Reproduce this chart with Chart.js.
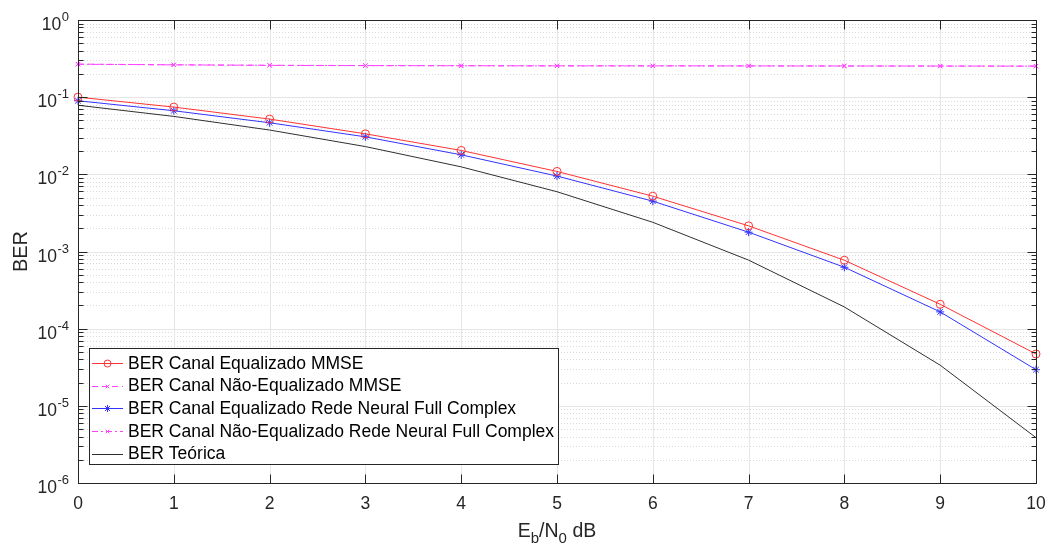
<!DOCTYPE html>
<html>
<head>
<meta charset="utf-8">
<script src="https://cdn.jsdelivr.net/npm/chart.js@4.4.1/dist/chart.umd.min.js"></script>
<style>
  html, body { margin: 0; padding: 0; background: #fff; }
  #wrap { width: 1052px; height: 551px; }
</style>
</head>
<body>
<div id="wrap"><canvas id="c" width="1052" height="551"></canvas></div>
<script>
// Eb/N0 (dB) and measured bit error rates
const ebn0 = [0, 1, 2, 3, 4, 5, 6, 7, 8, 9, 10];
const berMmseEq = [0.100, 0.0744, 0.0520, 0.0335, 0.0204, 0.0109, 0.00521, 0.00215, 0.00077, 0.000207, 0.000047];
const berMmseNoEq = [0.268, 0.263, 0.259, 0.257, 0.256, 0.255, 0.255, 0.254, 0.254, 0.253, 0.253];
const berNnEq = [0.0898, 0.0667, 0.0466, 0.0306, 0.0179, 0.0095, 0.00449, 0.00178, 0.000625, 0.000165, 0.0000294];
const berNnNoEq = [0.267, 0.262, 0.258, 0.256, 0.255, 0.254, 0.254, 0.254, 0.253, 0.253, 0.252];
const berTheory = [0.0786, 0.0563, 0.0375, 0.0229, 0.0125, 0.00595, 0.00239, 0.000773, 0.000191, 0.0000336, 0.00000387];

const xTickValues = [0, 1, 2, 3, 4, 5, 6, 7, 8, 9, 10];
const yDecadeExponents = [0, -1, -2, -3, -4, -5, -6];
const legendLabels = [
  'BER Canal Equalizado MMSE',
  'BER Canal Não-Equalizado MMSE',
  'BER Canal Equalizado Rede Neural Full Complex',
  'BER Canal Não-Equalizado Rede Neural Full Complex',
  'BER Teórica'
];

const FONT = '"Liberation Sans", Arial, Helvetica, sans-serif';
const AXIS_COLOR = '#262626';
const GRID_COLOR = '#e6e6e6';
const MINOR_GRID_COLOR = '#dadada';

const pts = (ys) => ebn0.map((x, i) => ({ x: x, y: ys[i] }));

function crisp(v) { return Math.round(v) + 0.5; }

function seg(ctx, x1, y1, x2, y2) {
  ctx.beginPath();
  ctx.moveTo(x1, y1);
  ctx.lineTo(x2, y2);
  ctx.stroke();
}

const matlabAxes = {
  id: 'matlabAxes',
  beforeDatasetsDraw(chart) {
    const { ctx, chartArea: a, scales: { x, y } } = chart;
    ctx.save();
    ctx.lineWidth = 1;
    // dotted minor grid on the log axis
    ctx.strokeStyle = MINOR_GRID_COLOR;
    ctx.setLineDash([1, 2]);
    for (const e of yDecadeExponents) {
      if (e === 0) continue;
      for (let m = 2; m <= 9; m++) {
        const py = crisp(y.getPixelForValue(m * Math.pow(10, e)));
        seg(ctx, a.left, py, a.right, py);
      }
    }
    ctx.setLineDash([]);
    // solid major grid
    ctx.strokeStyle = GRID_COLOR;
    for (const e of yDecadeExponents) {
      const py = crisp(y.getPixelForValue(Math.pow(10, e)));
      seg(ctx, a.left, py, a.right, py);
    }
    for (const v of xTickValues) {
      const px = crisp(x.getPixelForValue(v));
      seg(ctx, px, a.top, px, a.bottom);
    }
    ctx.restore();
  },
  afterDatasetsDraw(chart) {
    const { ctx, chartArea: a, scales: { x, y } } = chart;
    const L = crisp(a.left), R = crisp(a.right), T = crisp(a.top), B = crisp(a.bottom);
    ctx.save();
    ctx.lineWidth = 1;
    ctx.strokeStyle = AXIS_COLOR;
    // box
    ctx.strokeRect(L, T, R - L, B - T);
    // y ticks (inward, both sides)
    for (const e of yDecadeExponents) {
      const py = crisp(y.getPixelForValue(Math.pow(10, e)));
      seg(ctx, L, py, L + 9, py);
      seg(ctx, R, py, R - 9, py);
      if (e === 0) continue;
      for (let m = 2; m <= 9; m++) {
        const pm = crisp(y.getPixelForValue(m * Math.pow(10, e)));
        seg(ctx, L, pm, L + 5, pm);
        seg(ctx, R, pm, R - 5, pm);
      }
    }
    // x ticks (inward, top and bottom)
    for (const v of xTickValues) {
      const px = crisp(x.getPixelForValue(v));
      seg(ctx, px, B, px, B - 9);
      seg(ctx, px, T, px, T + 9);
    }

    // tick labels
    ctx.fillStyle = AXIS_COLOR;
    ctx.textBaseline = 'alphabetic';
    ctx.font = '17.5px ' + FONT;
    ctx.textAlign = 'center';
    for (const v of xTickValues) {
      ctx.fillText(String(v), x.getPixelForValue(v), B + 25);
    }
    const labelRight = 69;
    for (const e of yDecadeExponents) {
      const py = y.getPixelForValue(Math.pow(10, e));
      const sup = String(e);
      ctx.font = '13px ' + FONT;
      const w = ctx.measureText(sup).width;
      ctx.textAlign = 'left';
      ctx.fillText(sup, labelRight - w, py + 1);
      ctx.font = '17.5px ' + FONT;
      ctx.textAlign = 'right';
      ctx.fillText('10', labelRight - w - 0.5, py + 10);
    }

    // axis titles
    ctx.save();
    ctx.translate(27, (a.top + a.bottom) / 2);
    ctx.rotate(-Math.PI / 2);
    ctx.textAlign = 'center';
    ctx.font = '20px ' + FONT;
    ctx.fillText('BER', 0, 0);
    ctx.restore();

    const parts = [
      { t: 'E', size: 19.5, dy: 0 },
      { t: 'b', size: 15, dy: 6 },
      { t: '/N', size: 19.5, dy: 0 },
      { t: '0', size: 15, dy: 6 },
      { t: ' dB', size: 19.5, dy: 0 }
    ];
    let total = 0;
    for (const p of parts) { ctx.font = p.size + 'px ' + FONT; p.w = ctx.measureText(p.t).width; total += p.w; }
    let cx = (a.left + a.right) / 2 - total / 2;
    ctx.textAlign = 'left';
    const baseY = 537;
    for (const p of parts) {
      ctx.font = p.size + 'px ' + FONT;
      ctx.fillText(p.t, cx, baseY + p.dy);
      cx += p.w;
    }

    // legend
    const lx = 89.5, ly = 348.5, lw = 469, lh = 116, rowH = 22.65, firstRow = 363;
    ctx.fillStyle = '#ffffff';
    ctx.fillRect(lx, ly, lw, lh);
    ctx.strokeStyle = AXIS_COLOR;
    ctx.lineWidth = 1;
    ctx.strokeRect(lx, ly, lw, lh);
    chart.data.datasets.forEach((ds, i) => {
      const ry = firstRow + i * rowH;
      const sy = crisp(ry);
      ctx.strokeStyle = ds.borderColor;
      ctx.lineWidth = ds.borderWidth;
      ctx.setLineDash(ds.borderDash || []);
      seg(ctx, 92, sy, 123, sy);
      ctx.setLineDash([]);
      if (ds.pointStyle && ds.pointRadius > 0) {
        ctx.strokeStyle = ds.pointBorderColor;
        ctx.fillStyle = ds.pointBackgroundColor;
        ctx.lineWidth = ds.pointBorderWidth;
        Chart.helpers.drawPoint(ctx, { pointStyle: ds.pointStyle, radius: ds.pointRadius - 0.5, rotation: 0, borderWidth: ds.pointBorderWidth }, 107.5, sy);
      }
      ctx.fillStyle = '#000000';
      ctx.font = '17.5px ' + FONT;
      ctx.textAlign = 'left';
      ctx.textBaseline = 'middle';
      ctx.fillText(ds.label, 128, ry + 1);
    });
    ctx.restore();
  }
};

const line = (label, data, color, style, radius, dash, width) => ({
  label: label,
  data: pts(data),
  borderColor: color,
  borderWidth: width || 1,
  borderDash: dash,
  pointStyle: style,
  pointRadius: radius,
  pointBorderColor: color,
  pointBackgroundColor: 'rgba(255,255,255,0)',
  pointBorderWidth: 1,
  tension: 0,
  fill: false,
  clip: false
});

new Chart(document.getElementById('c'), {
  type: 'line',
  data: {
    datasets: [
      line(legendLabels[0], berMmseEq, '#ff3333', 'circle', 4, [], 1),
      line(legendLabels[1], berMmseNoEq, '#ff40ff', 'crossRot', 3, [6, 4], 1),
      line(legendLabels[2], berNnEq, '#3333ff', 'star', 4, [], 1),
      line(legendLabels[3], berNnNoEq, '#ff40ff', 'crossRot', 3, [6, 3, 2, 3], 1),
      line(legendLabels[4], berTheory, '#303030', false, 0, [], 1)
    ]
  },
  plugins: [matlabAxes],
  options: {
    responsive: false,
    devicePixelRatio: 1,
    animation: false,
    events: [],
    layout: { padding: { top: 20, right: 16, left: 0, bottom: 0 } },
    plugins: { legend: { display: false }, tooltip: { enabled: false } },
    scales: {
      x: {
        type: 'linear', min: 0, max: 10,
        ticks: { display: false },
        grid: { display: false },
        border: { display: false },
        afterFit: (s) => { s.height = 68; }
      },
      y: {
        type: 'logarithmic', min: 1e-6, max: 1,
        ticks: { display: false },
        grid: { display: false },
        border: { display: false },
        afterFit: (s) => { s.width = 78; }
      }
    }
  }
});
</script>
</body>
</html>
